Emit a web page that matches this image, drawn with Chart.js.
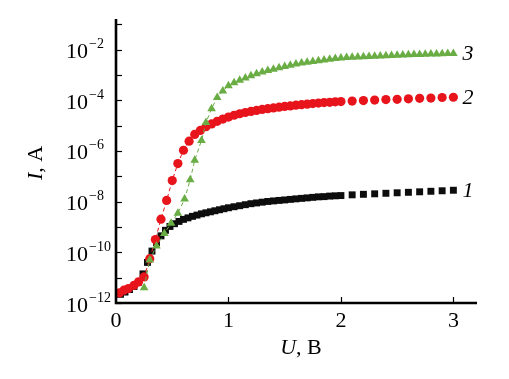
<!DOCTYPE html>
<html><head><meta charset="utf-8">
<script src="https://cdn.jsdelivr.net/npm/chart.js@4/dist/chart.umd.min.js"></script>
<style>html,body{margin:0;padding:0;background:#fff;} #c{display:block;}</style>
</head><body>
<canvas id="c" width="509" height="379"></canvas>
<script>
// Series 1 (black squares)
const U1 = [0.04,0.08,0.12,0.16,0.20,0.24,0.28,0.32,0.36,0.40,0.44,0.48,0.52,0.56,0.60,0.64,0.68,0.72,0.76,0.80,0.84,0.88,0.92,0.96,1.00,1.05,1.10,1.15,1.20,1.25,1.30,1.35,1.40,1.45,1.50,1.55,1.60,1.65,1.70,1.75,1.80,1.85,1.90,1.95,2.00,2.10,2.20,2.30,2.40,2.50,2.60,2.70,2.80,2.90,3.00];
const I1 = [2.2e-12,2.7e-12,3.4e-12,4.5e-12,6.6e-12,1.41e-11,4.0e-11,1.12e-10,2.4e-10,4.47e-10,7.41e-10,1.05e-9,1.35e-9,1.66e-9,2.0e-9,2.29e-9,2.63e-9,2.95e-9,3.31e-9,3.63e-9,3.98e-9,4.37e-9,4.79e-9,5.25e-9,5.75e-9,6.31e-9,6.92e-9,7.59e-9,8.32e-9,8.91e-9,9.55e-9,1.02e-8,1.07e-8,1.12e-8,1.17e-8,1.23e-8,1.29e-8,1.35e-8,1.41e-8,1.48e-8,1.55e-8,1.58e-8,1.66e-8,1.70e-8,1.74e-8,1.86e-8,1.95e-8,2.04e-8,2.14e-8,2.24e-8,2.34e-8,2.45e-8,2.57e-8,2.69e-8,2.82e-8];
// Series 2 (red circles)
const U2 = [0.03,0.07,0.11,0.16,0.20,0.25,0.30,0.35,0.40,0.45,0.50,0.55,0.60,0.65,0.70,0.75,0.80,0.85,0.90,0.95,1.00,1.05,1.10,1.15,1.20,1.25,1.30,1.35,1.40,1.45,1.50,1.55,1.60,1.65,1.70,1.75,1.80,1.85,1.90,1.95,2.00,2.10,2.20,2.30,2.40,2.50,2.60,2.70,2.80,2.90,3.00];
const I2 = [2.5e-12,3.2e-12,3.7e-12,5.0e-12,6.8e-12,1.07e-11,5.6e-11,3.2e-10,2.04e-9,1.12e-8,6.8e-8,3.2e-7,1.07e-6,2.45e-6,4.5e-6,6.5e-6,9.1e-6,1.17e-5,1.48e-5,1.82e-5,2.19e-5,2.57e-5,2.95e-5,3.31e-5,3.63e-5,3.98e-5,4.37e-5,4.68e-5,5.01e-5,5.37e-5,5.75e-5,6.03e-5,6.46e-5,6.76e-5,7.08e-5,7.41e-5,7.76e-5,8.13e-5,8.32e-5,8.71e-5,8.91e-5,9.33e-5,9.77e-5,1.02e-4,1.07e-4,1.10e-4,1.15e-4,1.20e-4,1.23e-4,1.29e-4,1.32e-4];
// Series 3 (green triangles)
const U3 = [0.25,0.30,0.36,0.43,0.49,0.55,0.61,0.66,0.70,0.76,0.80,0.85,0.90,0.95,1.00,1.05,1.10,1.15,1.20,1.25,1.30,1.35,1.40,1.45,1.50,1.55,1.60,1.65,1.70,1.75,1.80,1.85,1.90,1.95,2.00,2.05,2.10,2.15,2.20,2.25,2.30,2.35,2.40,2.45,2.50,2.55,2.60,2.65,2.70,2.75,2.80,2.85,2.90,2.95,3.00];
const I3 = [4.0e-12,5.0e-11,1.78e-10,5.6e-10,1.41e-9,3.5e-9,1.26e-8,7.4e-8,4.3e-7,2.6e-6,1.32e-5,4.7e-5,1.29e-4,2.34e-4,3.8e-4,4.9e-4,6.2e-4,7.6e-4,9.3e-4,1.12e-3,1.32e-3,1.51e-3,1.70e-3,1.91e-3,2.14e-3,2.40e-3,2.69e-3,2.95e-3,3.16e-3,3.39e-3,3.63e-3,3.89e-3,4.17e-3,4.47e-3,4.68e-3,4.90e-3,5.01e-3,5.13e-3,5.25e-3,5.37e-3,5.50e-3,5.62e-3,5.75e-3,5.89e-3,6.03e-3,6.17e-3,6.31e-3,6.46e-3,6.5e-3,6.61e-3,6.76e-3,6.8e-3,6.92e-3,7.08e-3,7.1e-3];

const seriesNames = ['1','2','3'];
const xTickValues = [0,1,2,3];
const yTickExponents = [-12,-10,-8,-6,-4,-2];
const xTitle = ['U', ', B'];
const yTitle = ['I', ', A'];

const toPts = (u, i) => u.map((x, k) => ({x: x, y: i[k]}));
const SERIF = '"Liberation Serif", "DejaVu Serif", serif';

const dashSeg = (col) => ({ borderColor: c => (c.p0.parsed.x >= 2 ? 'rgba(0,0,0,0)' : col) });

const axesPlugin = {
  id: 'axesPlugin',
  afterDraw(chart) {
    const ctx = chart.ctx, a = chart.chartArea;
    const xs = chart.scales.x, ys = chart.scales.y;
    ctx.save();
    ctx.strokeStyle = '#000'; ctx.fillStyle = '#000';
    ctx.lineWidth = 1.2;
    for (let e = -12; e <= -1; e++) {
      const y = Math.round(ys.getPixelForValue(Math.pow(10, e))) + 0.5;
      ctx.beginPath(); ctx.moveTo(a.left, y); ctx.lineTo(a.left + 6, y); ctx.stroke();
    }
    xTickValues.forEach(v => {
      if (v === 0) return;
      const x = Math.round(xs.getPixelForValue(v)) + 0.5;
      ctx.beginPath(); ctx.moveTo(x, a.bottom); ctx.lineTo(x, a.bottom - 6); ctx.stroke();
    });
    ctx.lineWidth = 2.6;
    ctx.beginPath(); ctx.moveTo(a.left, a.top); ctx.lineTo(a.left, a.bottom); ctx.lineTo(a.right, a.bottom); ctx.stroke();
    ctx.textBaseline = 'alphabetic'; ctx.textAlign = 'left';
    yTickExponents.forEach(e => {
      const y = ys.getPixelForValue(Math.pow(10, e));
      ctx.font = '22px ' + SERIF;
      ctx.fillText('10', 66, y + 8.5);
      const w = ctx.measureText('10').width;
      ctx.font = '14px ' + SERIF;
      ctx.fillText('\u2212' + Math.abs(e), 66 + w + 1, y - 1.5);
    });
    ctx.font = '22px ' + SERIF; ctx.textAlign = 'center'; ctx.textBaseline = 'middle';
    xTickValues.forEach(v => ctx.fillText(String(v), xs.getPixelForValue(v), 321));
    const drawTitle = (parts, cx, cy) => {
      ctx.font = 'italic 22px ' + SERIF; const w1 = ctx.measureText(parts[0]).width;
      ctx.font = '22px ' + SERIF; const w2 = ctx.measureText(parts[1]).width;
      const x0 = cx - (w1 + w2) / 2;
      ctx.textAlign = 'left';
      ctx.font = 'italic 22px ' + SERIF; ctx.fillText(parts[0], x0, cy);
      ctx.font = '22px ' + SERIF; ctx.fillText(parts[1], x0 + w1, cy);
    };
    ctx.textBaseline = 'middle';
    drawTitle(xTitle, 301, 348);
    ctx.save(); ctx.translate(36, 163); ctx.rotate(-Math.PI / 2);
    drawTitle(yTitle, 0, 0);
    ctx.restore();
    ctx.font = 'italic 22px ' + SERIF; ctx.textAlign = 'left'; ctx.textBaseline = 'middle';
    const lasts = [I1[I1.length-1], I2[I2.length-1], I3[I3.length-1]];
    const lastU = [U1[U1.length-1], U2[U2.length-1], U3[U3.length-1]];
    seriesNames.forEach((n, k) => {
      ctx.fillText(n, xs.getPixelForValue(lastU[k]) + 9, ys.getPixelForValue(lasts[k]) + 1);
    });
    ctx.restore();
  }
};

new Chart(document.getElementById('c'), {
  type: 'scatter',
  data: {
    datasets: [
      { label: seriesNames[2], data: toPts(U3, I3), pointStyle: 'triangle', pointRadius: 5,
        backgroundColor: '#6aad45', borderColor: '#6aad45', pointBorderWidth: 0,
        showLine: true, borderWidth: 1, borderDash: [4, 3], segment: dashSeg('#6aad45') },
      { label: seriesNames[1], data: toPts(U2, I2), pointStyle: 'circle', pointRadius: 4.6,
        backgroundColor: '#e8141c', borderColor: '#e8141c', pointBorderWidth: 0,
        showLine: true, borderWidth: 1, borderDash: [4, 3], segment: dashSeg('#e8141c') },
      { label: seriesNames[0], data: toPts(U1, I1), pointStyle: 'rect', pointRadius: 4.9,
        backgroundColor: '#0d0d0d', borderColor: '#0d0d0d', pointBorderWidth: 0, showLine: false }
    ]
  },
  options: {
    responsive: false, animation: false, devicePixelRatio: 1,
    layout: { padding: { top: 19, right: 32, left: 0, bottom: 0 } },
    plugins: { legend: { display: false }, tooltip: { enabled: false } },
    scales: {
      x: { type: 'linear', min: 0, max: 3.21, grid: { display: false }, border: { display: false },
           ticks: { display: false }, afterFit: s => { s.height = 76; } },
      y: { type: 'logarithmic', min: 1e-12, max: Math.pow(10, -0.79), grid: { display: false }, border: { display: false },
           ticks: { display: false }, afterFit: s => { s.width = 116; } }
    }
  },
  plugins: [axesPlugin]
});
</script>
</body></html>
